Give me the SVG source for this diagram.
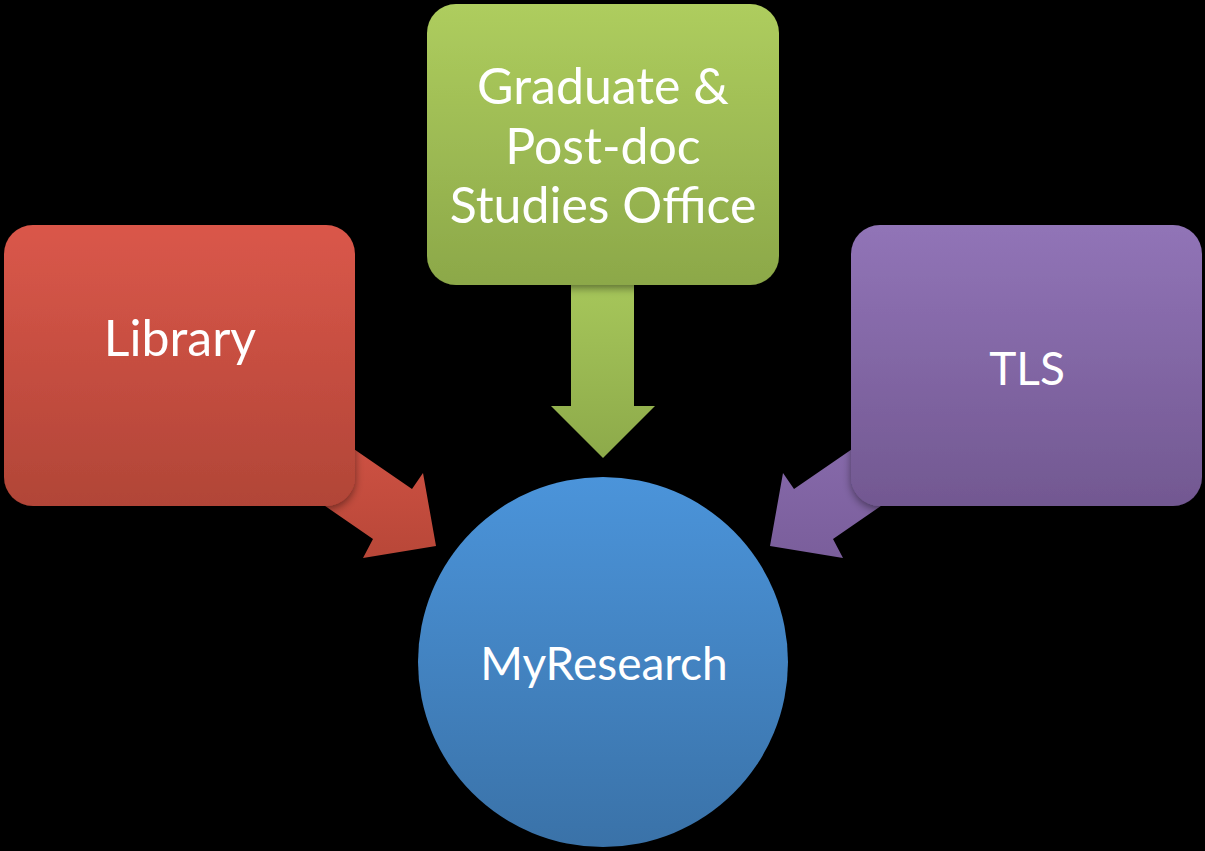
<svg xmlns="http://www.w3.org/2000/svg" width="1205" height="851" viewBox="0 0 1205 851">
<defs>
<linearGradient id="gRed" x1="0" y1="0" x2="0" y2="1"><stop offset="0" stop-color="#DA574A"/><stop offset="1" stop-color="#B14537"/></linearGradient>
<linearGradient id="gGreen" x1="0" y1="0" x2="0" y2="1"><stop offset="0" stop-color="#AECD5E"/><stop offset="1" stop-color="#8CA849"/></linearGradient>
<linearGradient id="gPurple" x1="0" y1="0" x2="0" y2="1"><stop offset="0" stop-color="#9174B7"/><stop offset="1" stop-color="#725891"/></linearGradient>
<linearGradient id="gBlue" x1="0" y1="0" x2="0" y2="1"><stop offset="0" stop-color="#4B94DA"/><stop offset="1" stop-color="#3A72A8"/></linearGradient>
<linearGradient id="gRedA" gradientUnits="userSpaceOnUse" x1="0" y1="410" x2="0" y2="560"><stop offset="0" stop-color="#D45446"/><stop offset="1" stop-color="#B84738"/></linearGradient>
<linearGradient id="gPurpleA" gradientUnits="userSpaceOnUse" x1="0" y1="410" x2="0" y2="560"><stop offset="0" stop-color="#8A6DAF"/><stop offset="1" stop-color="#7A5E9B"/></linearGradient>
<linearGradient id="gGreenA" gradientUnits="userSpaceOnUse" x1="0" y1="285" x2="0" y2="458"><stop offset="0" stop-color="#A6C65A"/><stop offset="1" stop-color="#8DAA4A"/></linearGradient>
<filter id="sh" x="-10%" y="-10%" width="120%" height="125%"><feDropShadow dx="0" dy="3" stdDeviation="4" flood-color="#000" flood-opacity="0.45"/></filter>
</defs>
<style>
text{font-family:Lato,"Open Sans","Liberation Sans",sans-serif;fill:#fff;font-size:50px;text-anchor:middle}
#node-myresearch text{font-size:46px}
#node-tls text{font-size:46px}
</style>
<rect width="1205" height="851" fill="#000"/>
<g id="connectors">
<polygon fill="url(#gRedA)" points="300,412 412,489 423,473 436,546 363,558 373,539 270,468"/>
<polygon fill="url(#gPurpleA)" points="906,412 794,489 783,473 770,546 843,558 833,539 936,468"/>
<polygon fill="url(#gGreenA)" points="571,270 634,270 634,406 655,406 603,458 551,406 571,406"/>
</g>
<g id="node-myresearch">
<circle cx="603" cy="662" r="185" fill="url(#gBlue)"/>
<text x="604" y="680">MyResearch</text>
</g>
<g id="node-library">
<rect x="4" y="225" width="351" height="281" rx="29" fill="url(#gRed)" filter="url(#sh)"/>
<text x="180" y="356">Library</text>
</g>
<g id="node-graduate">
<rect x="427" y="4" width="352" height="281" rx="29" fill="url(#gGreen)" filter="url(#sh)"/>
<text x="603" y="104">Graduate &amp;</text>
<text x="603" y="164">Post-doc</text>
<text x="603" y="223">Studies Office</text>
</g>
<g id="node-tls">
<rect x="851" y="225" width="351" height="281" rx="29" fill="url(#gPurple)" filter="url(#sh)"/>
<text x="1027" y="385">TLS</text>
</g>
</svg>
